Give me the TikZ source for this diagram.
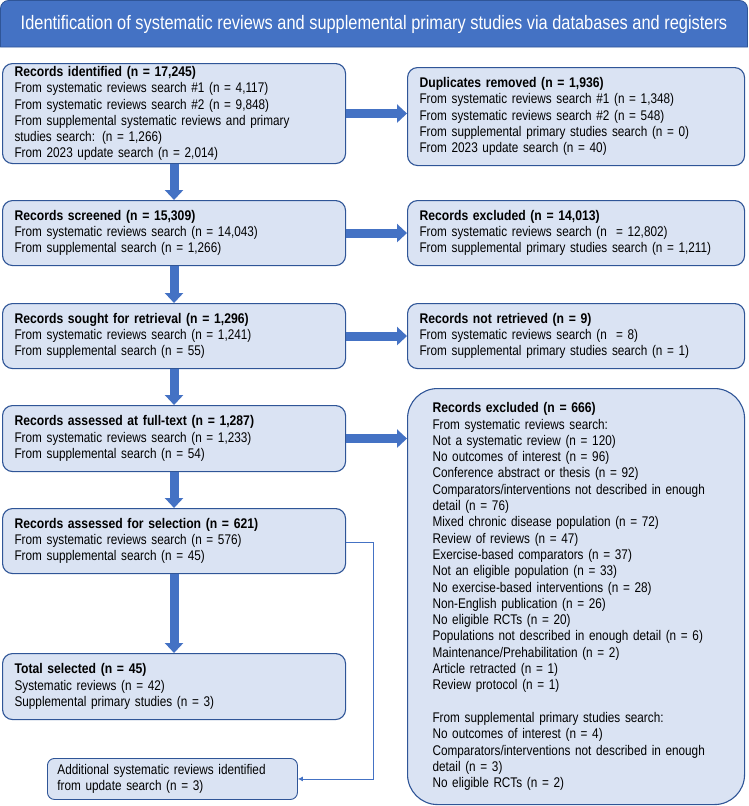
\documentclass[tikz,border=0pt]{standalone}
\usepackage{fontspec}
\setmainfont{Liberation Sans}[FakeStretch=0.84, BoldFeatures={FakeStretch=0.87}]
\usetikzlibrary{arrows.meta, positioning}
\definecolor{boxfill}{HTML}{DAE3F3}
\definecolor{boxline}{HTML}{2F5597}
\definecolor{flowblue}{HTML}{4472C4}

\begin{document}
\begin{tikzpicture}[x=1pt, y=-1pt,
  box/.style={draw=boxline, fill=boxfill, line width=1.1pt, rounded corners=10pt,
    anchor=north west, align=left, inner xsep=12pt, inner ysep=0pt,
    font=\fontsize{14}{16.3}\selectfont},
  bigarrow/.style={draw=flowblue, line width=9pt, -{Triangle[width=18pt,length=10pt]}},
  thinarrow/.style={draw=flowblue, line width=0.8pt, -{Latex[length=5pt,width=5pt]}}]
\useasboundingbox (0,0) rectangle (748,806);

\draw[fill=flowblue, draw=boxline, line width=0.8pt, rounded corners=8pt]
  (0.5,47) -- (0.5,0.5) -- (747.5,0.5) [sharp corners] -- (747.5,47) -- cycle;
\node[text=white, font=\fontsize{19.5}{22}\selectfont] (head) at (374,24)
  {Identification of systematic reviews and supplemental primary studies via databases and registers};

\node[box, text width=319pt, minimum height=100pt] (ident) at (2,63) {%
  \textbf{Records identified (n = 17,245)}\\
  From systematic reviews search \#1 (n = 4,117)\\
  From systematic reviews search \#2 (n = 9,848)\\
  From supplemental systematic reviews and primary\\
  studies search: (n = 1,266)\\
  From 2023 update search (n = 2,014)};
\node[box, text width=313pt, minimum height=98pt] (dup) at (407,67) {%
  \textbf{Duplicates removed (n = 1,936)}\\
  From systematic reviews search \#1 (n = 1,348)\\
  From systematic reviews search \#2 (n = 548)\\
  From supplemental primary studies search (n = 0)\\
  From 2023 update search (n = 40)};

\node[box, text width=319pt, minimum height=65pt] (screen) at (2,200) {%
  \textbf{Records screened (n = 15,309)}\\
  From systematic reviews search (n = 14,043)\\
  From supplemental search (n = 1,266)};
\node[box, text width=313pt, minimum height=65pt] (excl) at (407,200) {%
  \textbf{Records excluded (n = 14,013)}\\
  From systematic reviews search (n \ = 12,802)\\
  From supplemental primary studies search (n = 1,211)};

\node[box, text width=319pt, minimum height=65pt] (sought) at (2,303) {%
  \textbf{Records sought for retrieval (n = 1,296)}\\
  From systematic reviews search (n = 1,241)\\
  From supplemental search (n = 55)};
\node[box, text width=313pt, minimum height=65pt] (notret) at (407,303) {%
  \textbf{Records not retrieved (n = 9)}\\
  From systematic reviews search (n \ = 8)\\
  From supplemental primary studies search (n = 1)};

\node[box, text width=319pt, minimum height=66pt] (full) at (2,405) {%
  \textbf{Records assessed at full-text (n = 1,287)}\\
  From systematic reviews search (n = 1,233)\\
  From supplemental search (n = 54)};
\node[box, rounded corners=30pt, inner xsep=25pt, text width=287pt, minimum height=416pt] (final) at (407,388) {%
  \textbf{Records excluded (n = 666)}\\
  From systematic reviews search:\\
  Not a systematic review (n = 120)\\
  No outcomes of interest (n = 96)\\
  Conference abstract or thesis (n = 92)\\
  Comparators/interventions not described in enough\\
  detail (n = 76)\\
  Mixed chronic disease population (n = 72)\\
  Review of reviews (n = 47)\\
  Exercise-based comparators (n = 37)\\
  Not an eligible population (n = 33)\\
  No exercise-based interventions (n = 28)\\
  Non-English publication (n = 26)\\
  No eligible RCTs (n = 20)\\
  Populations not described in enough detail (n = 6)\\
  Maintenance/Prehabilitation (n = 2)\\
  Article retracted (n = 1)\\
  Review protocol (n = 1)\\[16.3pt]
  From supplemental primary studies search:\\
  No outcomes of interest (n = 4)\\
  Comparators/interventions not described in enough\\
  detail (n = 3)\\
  No eligible RCTs (n = 2)};

\node[box, text width=319pt, minimum height=65pt] (select) at (2,508) {%
  \textbf{Records assessed for selection (n = 621)}\\
  From systematic reviews search (n = 576)\\
  From supplemental search (n = 45)};
\node[box, text width=319pt, minimum height=66pt] (total) at (2,653) {%
  \textbf{Total selected (n = 45)}\\
  Systematic reviews (n = 42)\\
  Supplemental primary studies (n = 3)};
\node[box, line width=0.9pt, rounded corners=7pt, inner xsep=10pt, text width=230pt, minimum height=41pt] (addl) at (47,758) {%
  Additional systematic reviews identified\\
  from update search (n = 3)};

\draw[bigarrow] (ident.east) -- (ident.east -| dup.west);
\draw[bigarrow] (screen.east) -- (excl.west);
\draw[bigarrow] (sought.east) -- (notret.west);
\draw[bigarrow] (full.east) -- (full.east -| final.west);
\draw[bigarrow] (ident.south) -- (screen.north);
\draw[bigarrow] (screen.south) -- (sought.north);
\draw[bigarrow] (sought.south) -- (full.north);
\draw[bigarrow] (full.south) -- (select.north);
\draw[bigarrow] (select.south) -- (total.north);
\draw[thinarrow] ([yshift=-1.5pt]select.east) -- ++(27,0) |- (addl.east);
\end{tikzpicture}
\end{document}
